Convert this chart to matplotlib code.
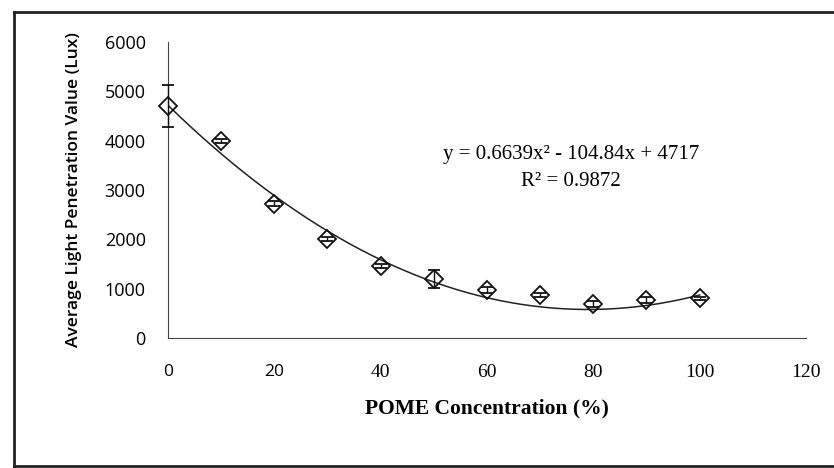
import numpy as np
import matplotlib.pyplot as plt
from matplotlib.lines import Line2D

# Datos
concentracion = [0, 10, 20, 30, 40, 50, 60, 70, 80, 90, 100]
luz_media = [4700, 4000, 2720, 2000, 1450, 1200, 980, 870, 680, 770, 810]
error_luz = [420, 40, 50, 40, 40, 180, 60, 40, 60, 60, 30]

# Coeficientes de la línea de tendencia (y = a x^2 + b x + c)
coef_tendencia = [0.6639, -104.84, 4717]
texto_ecuacion = "y = 0.6639x² - 104.84x + 4717"
texto_r2 = "R² = 0.9872"

fig = plt.figure(figsize=(8.34, 4.68), dpi=100)
ax = fig.add_axes([0.2014, 0.2778, 0.765, 0.6325])

# Línea de tendencia polinómica
xs = np.linspace(min(concentracion), max(concentracion), 200)
ax.plot(xs, np.polyval(coef_tendencia, xs), color="#222222", lw=1.1, zorder=2)

# Puntos con barras de error
ax.errorbar(concentracion, luz_media, yerr=error_luz, fmt="D", ms=9.5,
            mfc="none", mec="#111111", mew=1.3, ecolor="#111111",
            elinewidth=1.0, capsize=4, capthick=1.0, zorder=3, clip_on=False)

ax.set_xlim(0, 120)
ax.set_ylim(0, 6000)
ax.set_xticks(range(0, 121, 20))
ax.set_yticks(range(0, 6001, 1000))
ax.tick_params(length=0)
ax.tick_params(axis="x", pad=19)
ax.tick_params(axis="y", pad=16)
# en el original "0" y "20" salen en sans, el resto en serif
for i, lab in enumerate(ax.get_xticklabels()):
    if i < 2:
        lab.set_fontfamily("Open Sans")
        lab.set_fontsize(12.5)
    else:
        lab.set_fontfamily("Liberation Serif")
        lab.set_fontsize(14)
for lab in ax.get_yticklabels():
    lab.set_fontfamily("Open Sans")
    lab.set_fontsize(13)

for side in ["top", "right"]:
    ax.spines[side].set_visible(False)
ax.spines["left"].set_color("#444444")
ax.spines["bottom"].set_color("#444444")

ax.set_xlabel("POME Concentration (%)", fontfamily="Liberation Serif",
              fontweight="bold", fontsize=15.5, labelpad=12)
ax.set_ylabel("Average Light Penetration Value (Lux)", fontfamily="Open Sans",
              fontweight="semibold", fontsize=12.5, labelpad=16)

ax.text(0.632, 0.62, texto_ecuacion, transform=ax.transAxes, ha="center",
        va="center", fontfamily="Liberation Serif", fontsize=15)
ax.text(0.632, 0.53, texto_r2, transform=ax.transAxes, ha="center",
        va="center", fontfamily="Liberation Serif", fontsize=15)

# Marco exterior del área del gráfico
for xd, yd in [([0.017, 0.017], [0.004, 0.974]),
               ([0.017, 1.0], [0.974, 0.974]),
               ([0.017, 1.0], [0.004, 0.004])]:
    fig.add_artist(Line2D(xd, yd, transform=fig.transFigure,
                          color="#222222", lw=2))

fig.savefig("out.png", dpi=100)
